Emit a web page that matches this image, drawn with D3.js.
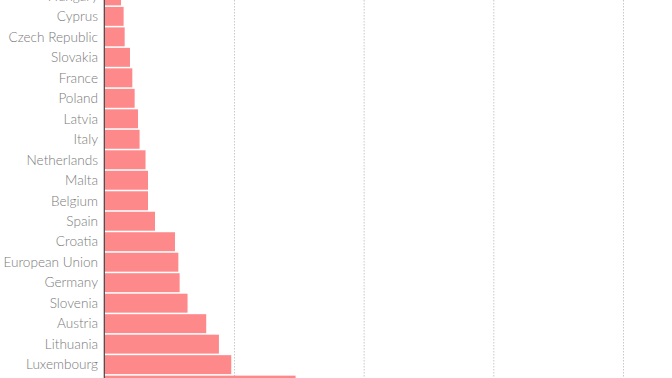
<!DOCTYPE html>
<html><head><meta charset="utf-8">
<script src="https://cdn.jsdelivr.net/npm/d3@7"></script>
<style>html,body{margin:0;padding:0;background:#fff;overflow:hidden}</style>
</head><body>
<svg id="c" width="672" height="378"></svg>
<script>
const countries = ["Hungary","Cyprus","Czech Republic","Slovakia","France","Poland","Latvia","Italy","Netherlands","Malta","Belgium","Spain","Croatia","European Union","Germany","Slovenia","Austria","Lithuania","Luxembourg","Estonia"];
const values = [1.29,1.49,1.57,1.98,2.16,2.34,2.60,2.72,3.18,3.37,3.37,3.91,5.45,5.71,5.81,6.42,7.86,8.84,9.79,14.75];
const gridTicks = [10,20,30,40];

const svg = d3.select("#c");
const x = d3.scaleLinear().domain([0,40]).range([104.3, 623]);
const y = d3.scaleBand().domain(countries).range([-13.6, 394.6]).paddingInner(0.075);

svg.append("g").selectAll("line").data(gridTicks).join("line")
  .attr("x1", d=>x(d)+0.5).attr("x2", d=>x(d)+0.5)
  .attr("y1", 0).attr("y2", 378)
  .attr("stroke", "#c8c8c8").attr("stroke-width", 1).attr("stroke-dasharray", "1.5,1.5");

svg.append("g").selectAll("rect").data(countries).join("rect")
  .attr("x", x(0)).attr("y", d=>y(d))
  .attr("width", (d,i)=>x(values[i])-x(0)).attr("height", y.bandwidth())
  .attr("fill", "#fd898b");

svg.append("line").attr("x1", x(0)).attr("x2", x(0)).attr("y1", 0).attr("y2", 378)
  .attr("stroke", "#444").attr("stroke-width", 1.2);

svg.append("g").selectAll("text").data(countries).join("text")
  .attr("x", 98).attr("y", d=>y(d)+y.bandwidth()/2)
  .attr("dy", "0.35em").attr("text-anchor", "end")
  .attr("font-family", "Lato, sans-serif").attr("font-weight", 300)
  .attr("font-size", 13.6).attr("fill", "#7a7a7a")
  .text(d=>d);
</script>
</body></html>
